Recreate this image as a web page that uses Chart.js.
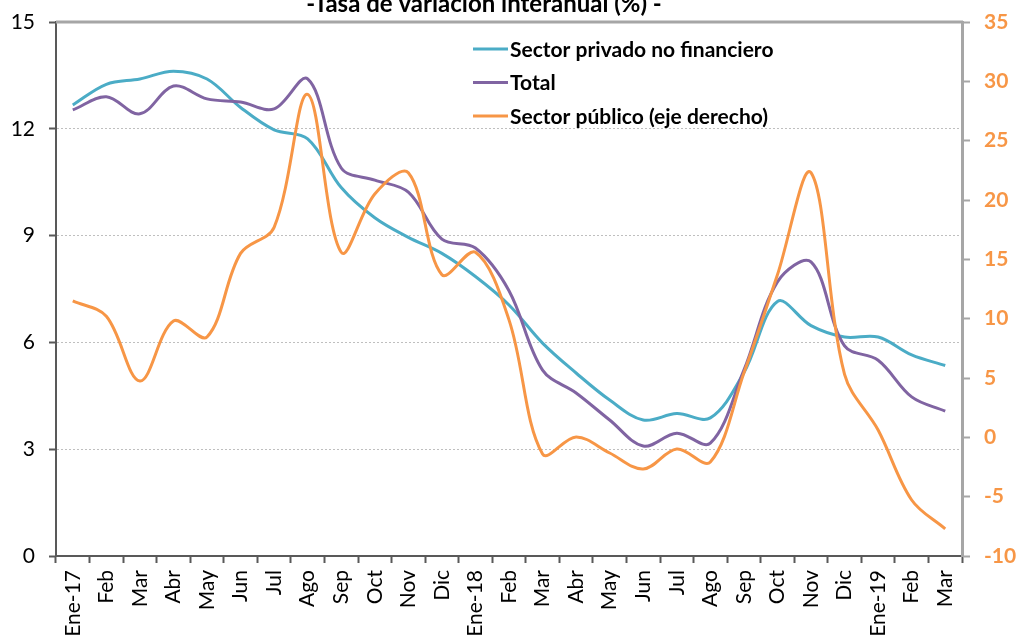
<!DOCTYPE html>
<html>
<head>
<meta charset="utf-8">
<script src="https://cdn.jsdelivr.net/npm/chart.js@4/dist/chart.umd.min.js"></script>
<style>
    body { margin: 0; background: #fff; }
    #wrap { width: 1016px; height: 635px; position: relative; }
</style>
</head>
<body>
<div id="wrap"><canvas id="chartOne"></canvas></div>
<script>
// Datos
const meses = ['Ene-17', 'Feb', 'Mar', 'Abr', 'May', 'Jun', 'Jul', 'Ago', 'Sep', 'Oct', 'Nov', 'Dic',
    'Ene-18', 'Feb', 'Mar', 'Abr', 'May', 'Jun', 'Jul', 'Ago', 'Sep', 'Oct', 'Nov', 'Dic',
    'Ene-19', 'Feb', 'Mar'];
const privado = [12.67, 13.25, 13.4, 13.62, 13.4, 12.6, 11.97, 11.72, 10.35, 9.5, 8.95, 8.5,
    7.85, 7.05, 5.98, 5.14, 4.38, 3.82, 4.0, 3.88, 5.15, 7.15, 6.47, 6.15, 6.15, 5.65, 5.35];
const total = [12.53, 12.9, 12.42, 13.2, 12.84, 12.75, 12.56, 13.4, 10.9, 10.56, 10.22, 8.9,
    8.65, 7.45, 5.22, 4.58, 3.82, 3.09, 3.45, 3.17, 5.22, 7.7, 8.26, 5.9, 5.5, 4.47, 4.07];
const publico = [11.5, 10.2, 4.75, 9.8, 8.46, 15.5, 17.7, 28.9, 15.6, 20.5, 22.3, 13.7,
    15.6, 9.9, -1.4, 0.03, -1.32, -2.67, -0.98, -2.08, 5.42, 13.7, 22.3, 5.3, 0.62, -5.28, -7.72];
const etiquetas = ['Sector privado no financiero', 'Total', 'Sector público (eje derecho)'];
const titulo = '-Tasa de variación interanual (%) -';

const colores = ['#4BACC6', '#8064A2', '#F79646'];
const fuente = 'Lato, "Open Sans", sans-serif';

// titulo y leyenda dibujados a mano (la leyenda va dentro del area)
const extras = {
    id: 'extras',
    afterDraw(chart) {
        const ctx = chart.ctx;
        const area = chart.chartArea;
        ctx.save();
        // borde superior gris
        ctx.strokeStyle = '#a6a6a6';
        ctx.lineWidth = 3;
        ctx.beginPath();
        ctx.moveTo(area.left, area.top);
        ctx.lineTo(area.right + 1, area.top);
        ctx.stroke();

        ctx.fillStyle = '#000';
        ctx.font = 'bold 24px ' + fuente;
        ctx.textAlign = 'center';
        ctx.textBaseline = 'alphabetic';
        ctx.fillText(titulo, 484, 12);

        ctx.font = 'bold 21px ' + fuente;
        ctx.textAlign = 'left';
        ctx.textBaseline = 'middle';
        chart.data.datasets.forEach((ds, i) => {
            const y = 49 + i * 33.5;
            ctx.strokeStyle = ds.borderColor;
            ctx.lineWidth = 3;
            ctx.beginPath();
            ctx.moveTo(473, y);
            ctx.lineTo(508, y);
            ctx.stroke();
            ctx.fillStyle = '#000';
            ctx.fillText(ds.label, 510, y + 1);
        });
        ctx.restore();
    }
};

function serie(label, data, color, eje, orden) {
    return {
        label: label,
        data: data,
        borderColor: color,
        backgroundColor: color,
        borderWidth: 3,
        pointRadius: 0,
        tension: 0.35,
        yAxisID: eje,
        order: orden
    };
}

// ancho fijo del eje y sin relleno extra arriba/abajo
function ajustarEje(ancho) {
    return function (scale) {
        scale.width = ancho;
        scale.paddingTop = 0;
        scale.paddingBottom = 0;
    };
}

const ctxOne = document.getElementById('chartOne').getContext('2d');
const chartOne = new Chart(ctxOne, {
    type: 'line',
    data: {
        labels: meses,
        datasets: [
            serie(etiquetas[0], privado, colores[0], 'y', 3),
            serie(etiquetas[1], total, colores[1], 'y', 2),
            serie(etiquetas[2], publico, colores[2], 'y1', 1)
        ]
    },
    options: {
        responsive: true,
        maintainAspectRatio: false,
        animation: false,
        layout: { padding: { top: 22, left: 0, right: 0, bottom: 0 } },
        plugins: {
            legend: { display: false },
            tooltip: { enabled: false }
        },
        scales: {
            x: {
                offset: true,
                grid: {
                    offset: true,
                    drawOnChartArea: false,
                    tickLength: 7,
                    tickColor: '#595959',
                    tickWidth: 2
                },
                border: { color: '#595959', width: 2 },
                ticks: {
                    autoSkip: false,
                    maxRotation: 90,
                    minRotation: 90,
                    padding: 7,
                    color: '#000',
                    font: { family: fuente, size: 21 }
                },
                afterFit(scale) { scale.height = 79; }
            },
            y: {
                position: 'left',
                min: 0,
                max: 15,
                ticks: {
                    stepSize: 3,
                    padding: 14,
                    color: '#000',
                    font: { family: fuente, size: 21 }
                },
                grid: {
                    color: (c) => (c.tick && c.tick.value > 0 && c.tick.value < 15) ? '#bfbfbf' : 'rgba(0,0,0,0)',
                    lineWidth: 1,
                    tickLength: 7,
                    tickColor: '#595959',
                    tickWidth: 2
                },
                border: { color: '#595959', width: 2, dash: [2, 2] },
                afterFit: ajustarEje(56)
            },
            y1: {
                position: 'right',
                min: -10,
                max: 35,
                ticks: {
                    stepSize: 5,
                    padding: 14,
                    color: '#F79646',
                    font: { family: fuente, size: 21, weight: 'bold' }
                },
                grid: {
                    drawOnChartArea: false,
                    tickLength: 8,
                    tickColor: '#a6a6a6',
                    tickWidth: 2
                },
                border: { color: '#a6a6a6', width: 3 },
                afterFit: ajustarEje(54)
            }
        }
    },
    plugins: [extras]
});
</script>
</body>
</html>
